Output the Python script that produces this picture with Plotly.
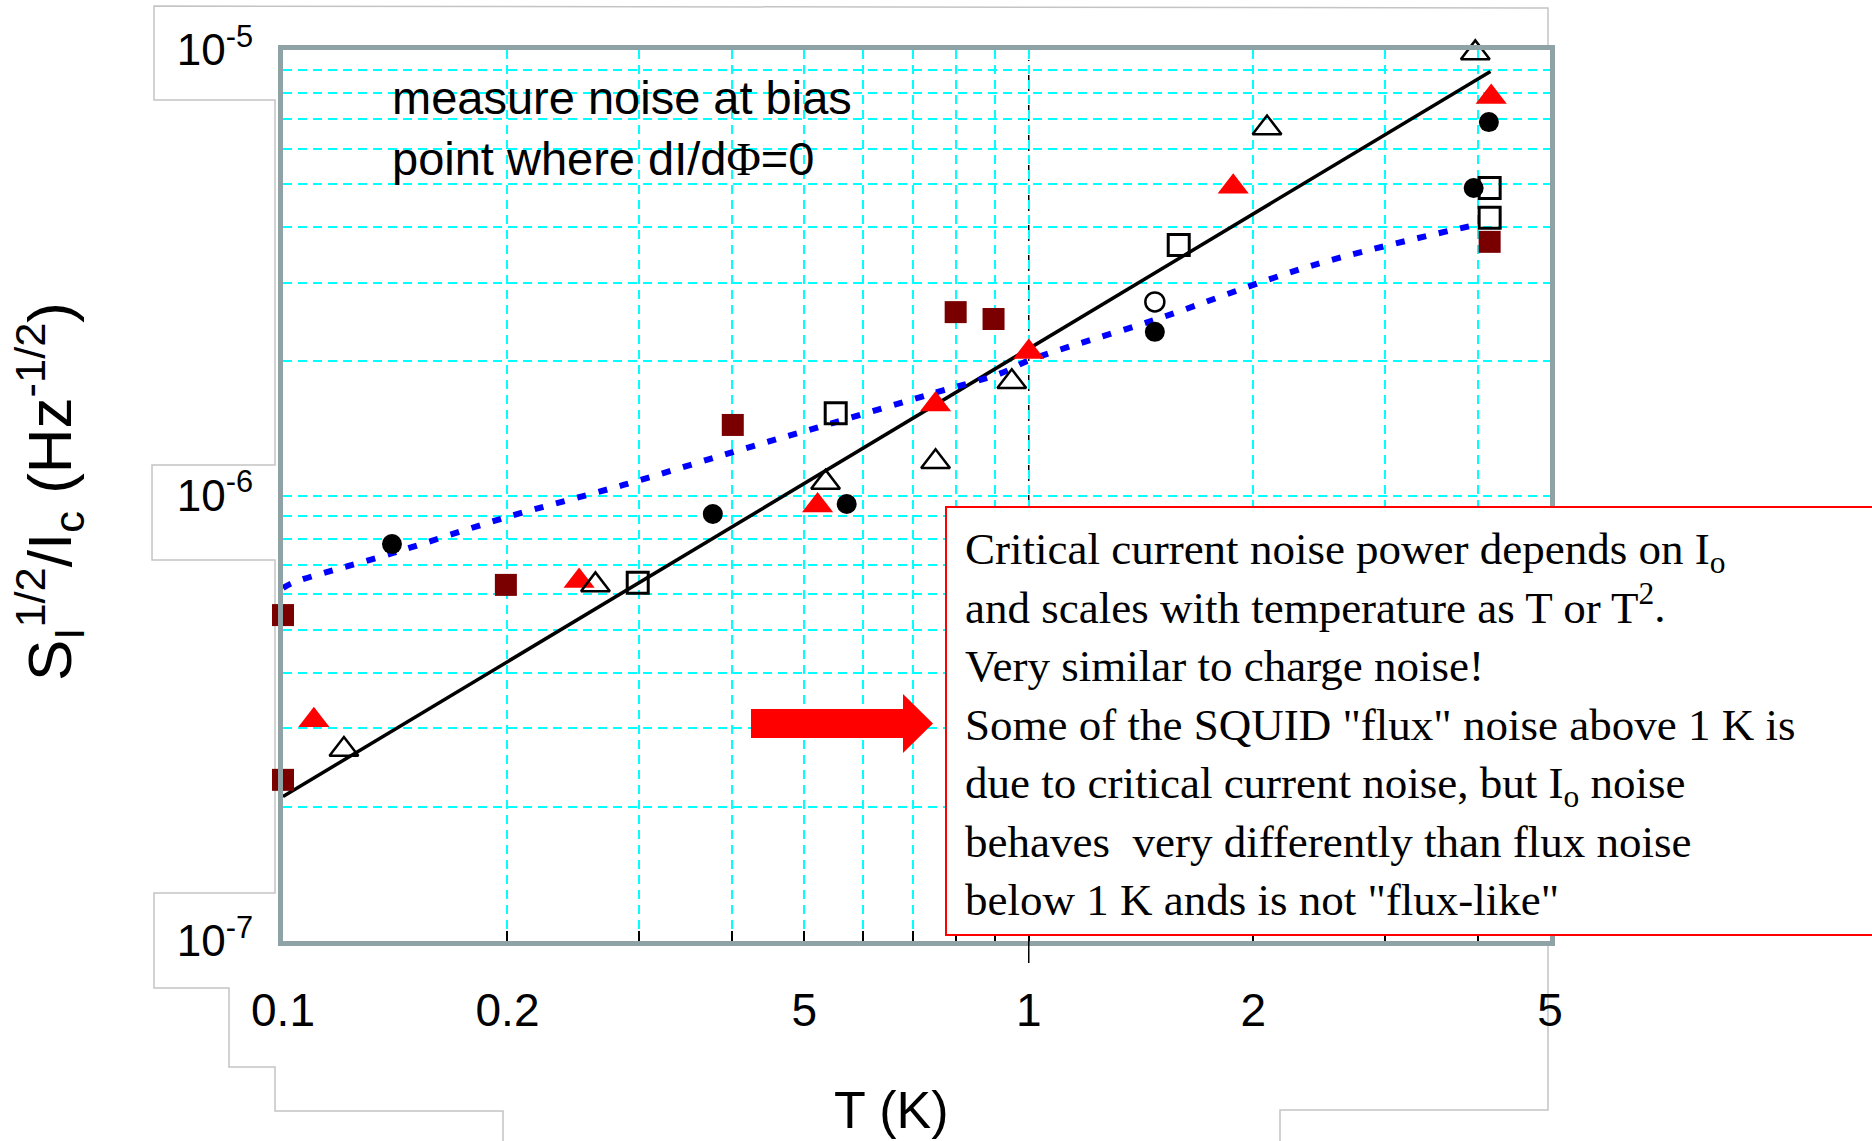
import math
import plotly.graph_objects as go

# ---------------------------------------------------------------
# Page and plot-frame geometry (pixels)
# ---------------------------------------------------------------
FIG_W, FIG_H = 1872, 1141
L, R, T, B = 283, 1550, 50, 941
PW, PH = R - L, B - T


def px(x):
    """page pixel x -> paper coordinate"""
    return (x - L) / PW


def py(y):
    """page pixel y -> paper coordinate"""
    return (B - y) / PH


# ---------------------------------------------------------------
# Data: normalised critical-current noise vs temperature
# ---------------------------------------------------------------
open_tri_T = [0.1207, 0.2624, 0.534, 0.75, 0.949, 2.087, 3.97]
open_tri_S = [2.69e-7, 6.30e-7, 1.07e-6, 1.19e-6, 1.80e-6, 6.68e-6, 9.85e-6]

red_tri_T = [0.110, 0.2495, 0.521, 0.75, 1.0, 1.88, 4.17]
red_tri_S = [3.13e-7, 6.43e-7, 9.5e-7, 1.60e-6, 2.10e-6, 4.93e-6, 7.84e-6]

dot_T = [0.140, 0.377, 0.57, 1.476, 3.95, 4.14]
dot_S = [7.78e-7, 9.09e-7, 9.57e-7, 2.33e-6, 4.90e-6, 6.89e-6]

open_dot_T = [1.476]
open_dot_S = [2.72e-6]

open_sq_T = [0.299, 0.551, 1.589, 4.15, 4.15]
open_sq_S = [6.37e-7, 1.53e-6, 3.65e-6, 4.90e-6, 4.20e-6]

maroon_sq_T = [0.1, 0.1, 0.199, 0.401, 0.798, 0.897, 4.15]
maroon_sq_S = [5.39e-7, 2.30e-7, 6.30e-7, 1.44e-6, 2.58e-6, 2.49e-6, 3.71e-6]

# linear-in-T guide line
fit_T = [0.1, 4.16]
fit_S = [2.11e-7, 8.95e-6]

# flux-noise reference curve
flux_T = [0.1, 0.1031, 0.1405, 0.1999, 0.286, 0.402, 0.547, 0.746, 0.917,
          1.0, 1.476, 2.41, 3.97]
flux_S = [6.2e-7, 6.37e-7, 7.43e-7, 8.95e-7, 1.056e-6, 1.253e-6, 1.456e-6,
          1.698e-6, 1.88e-6, 2.01e-6, 2.48e-6, 3.29e-6, 4.05e-6]

T_REF = 1.0  # 1 K marker line

# Axis ticks / labels
x_tickvals = [0.1, 0.2, 0.3, 0.4, 0.5, 0.6, 0.7, 0.8, 0.9, 1, 2, 3, 4, 5]
x_ticktext = ["0.1", "0.2", "", "", "5", "", "", "", "", "1", "2", "", "", "5"]
y_tickvals = [m * 10.0 ** e for e in (-7, -6) for m in range(1, 10)] + [1e-5]
y_ticktext = ["10<sup>-7</sup>"] + [""] * 8 + ["10<sup>-6</sup>"] + [""] * 8 + ["10<sup>-5</sup>"]

SANS = "Liberation Sans, Arial, sans-serif"
SERIF = "Liberation Serif, Times New Roman, serif"
BORDER = "#8fa2a5"
GRID = "#00ffff"

fig = go.Figure()

fig.add_trace(go.Scatter(x=fit_T, y=fit_S, mode="lines",
                         line=dict(color="black", width=3.5),
                         cliponaxis=False, hoverinfo="skip"))
fig.add_trace(go.Scatter(x=flux_T, y=flux_S, mode="lines",
                         line=dict(color="#0000ff", width=6, dash="9px,13px",
                                   shape="spline"),
                         cliponaxis=False, hoverinfo="skip"))
fig.add_trace(go.Scatter(x=dot_T, y=dot_S, mode="markers",
                         marker=dict(symbol="circle", size=20, color="black"),
                         cliponaxis=False))
fig.add_trace(go.Scatter(x=open_dot_T, y=open_dot_S, mode="markers",
                         marker=dict(symbol="circle-open", size=19, color="black",
                                     line=dict(width=2.5)),
                         cliponaxis=False))
fig.add_trace(go.Scatter(x=maroon_sq_T, y=maroon_sq_S, mode="markers",
                         marker=dict(symbol="square", size=22, color="#7a0000"),
                         cliponaxis=False))
fig.add_trace(go.Scatter(x=red_tri_T, y=red_tri_S, mode="markers",
                         marker=dict(symbol="triangle-up", size=27, color="#ff0000"),
                         cliponaxis=False))
fig.add_trace(go.Scatter(x=open_tri_T, y=open_tri_S, mode="markers",
                         marker=dict(symbol="triangle-up-open", size=25, color="black",
                                     line=dict(width=2.5)),
                         cliponaxis=False))
fig.add_trace(go.Scatter(x=open_sq_T, y=open_sq_S, mode="markers",
                         marker=dict(symbol="square-open", size=21, color="black",
                                     line=dict(width=3)),
                         cliponaxis=False))

shapes = []

# dashed 1 K line and its outward tick
shapes.append(dict(type="line", xref="x", yref="paper", x0=T_REF, x1=T_REF,
                   y0=0, y1=py(60), layer="between",
                   line=dict(color="black", width=1.5, dash="6px,4px")))
shapes.append(dict(type="line", xref="x", yref="paper", x0=T_REF, x1=T_REF,
                   y0=0, y1=py(963), line=dict(color="black", width=1.5)))

# light outline of the slide boxes around the axes
outline_left = [(503, 1141), (503, 1111), (275, 1111), (275, 1067), (229, 1067),
                (229, 988), (154, 988), (154, 893), (275, 893), (275, 560),
                (152, 560), (152, 465), (275, 465), (275, 100), (154, 100),
                (154, 6), (1548, 8), (1548, 50)]
outline_right = [(1548, 941), (1548, 1110), (1280, 1110), (1280, 1141)]
for pts in (outline_left, outline_right):
    path = "M " + " L ".join(f"{px(a):.5f},{py(b):.5f}" for a, b in pts)
    shapes.append(dict(type="path", xref="paper", yref="paper", path=path,
                       layer="below", line=dict(color="#c4c4c4", width=1.5)))

# red arrow
arrow = [(751, 709), (903, 709), (903, 694), (933, 723.5), (903, 753),
         (903, 738), (751, 738)]
shapes.append(dict(type="path", xref="paper", yref="paper",
                   path="M " + " L ".join(f"{px(a):.5f},{py(b):.5f}" for a, b in arrow) + " Z",
                   fillcolor="#ff0000", line=dict(width=0), layer="above"))

# white comment box with red frame
shapes.append(dict(type="rect", xref="paper", yref="paper",
                   x0=px(946), x1=px(1900), y0=py(935), y1=py(507),
                   fillcolor="white", line=dict(color="#ff0000", width=2),
                   layer="above"))

annotations = [
    dict(text="measure noise at bias<br>point where dI/d"
              "<span style='font-family:Liberation Serif'>Φ</span>=0",
         x=px(390), y=py(128), xref="paper", yref="paper",
         xanchor="left", yanchor="middle", align="left", showarrow=False,
         font=dict(family=SANS, size=47, color="black")),
    dict(text="Critical current noise power depends on I<sub>o</sub><br>"
              "and scales with temperature as T or T<sup>2</sup>.<br>"
              "Very similar to charge noise!<br>"
              "Some of the SQUID \"flux\" noise above 1 K is<br>"
              "due to critical current noise, but I<sub>o</sub> noise<br>"
              "behaves\u00a0 very differently than flux noise<br>"
              "below 1 K ands is not \"flux-like\"",
         x=px(963), y=py(724), xref="paper", yref="paper",
         xanchor="left", yanchor="middle", align="left", showarrow=False,
         font=dict(family=SERIF, size=45, color="black")),
    dict(text="S<sub>I</sub><sup>1/2</sup>/I<sub>c</sub> (Hz<sup>-1/2</sup>)",
         x=px(50), y=py(492), xref="paper", yref="paper", textangle=-90,
         xanchor="center", yanchor="middle", showarrow=False,
         font=dict(family=SANS, size=62, color="black")),
    dict(text="T (K)", x=px(891), y=py(1110), xref="paper", yref="paper",
         xanchor="center", yanchor="middle", showarrow=False,
         font=dict(family=SANS, size=52, color="black")),
]

fig.update_layout(
    template="none",
    width=FIG_W, height=FIG_H,
    margin=dict(l=L, r=FIG_W - R, t=T, b=FIG_H - B, pad=0, autoexpand=False),
    paper_bgcolor="white", plot_bgcolor="white",
    showlegend=False,
    shapes=shapes, annotations=annotations,
    xaxis=dict(type="log", range=[-1, math.log10(5)], autorange=False,
               tickmode="array", tickvals=x_tickvals, ticktext=x_ticktext,
               ticks="inside", ticklen=10, tickwidth=1.5, tickcolor="black",
               showgrid=True, gridcolor=GRID, gridwidth=2, griddash="9px,6px",
               showline=True, linecolor=BORDER, linewidth=5, mirror=True,
               zeroline=False, ticklabelstandoff=25,
               tickfont=dict(family=SANS, size=46, color="black")),
    yaxis=dict(type="log", range=[-7, -5], autorange=False,
               tickmode="array", tickvals=y_tickvals, ticktext=y_ticktext,
               ticks="", showgrid=True, gridcolor=GRID, gridwidth=2,
               griddash="9px,6px",
               showline=True, linecolor=BORDER, linewidth=5, mirror=True,
               zeroline=False, ticklabelstandoff=16,
               tickfont=dict(family=SANS, size=44, color="black")),
)

fig.write_html("out.html")
